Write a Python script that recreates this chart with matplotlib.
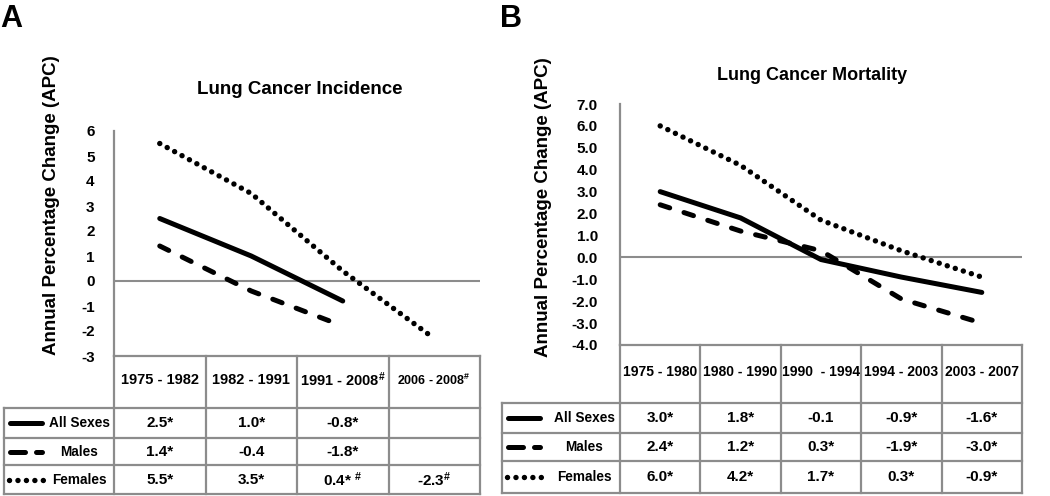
import matplotlib
matplotlib.use("Agg")
import matplotlib.pyplot as plt

plt.rcParams["font.family"] = ["Liberation Sans", "DejaVu Sans"]
plt.rcParams["font.weight"] = "bold"
plt.rcParams["axes.unicode_minus"] = False
plt.rcParams["mathtext.fontset"] = "custom"
plt.rcParams["mathtext.rm"] = "Liberation Sans:bold"
plt.rcParams["mathtext.it"] = "Liberation Sans:bold"
plt.rcParams["mathtext.bf"] = "Liberation Sans:bold"
plt.rcParams["mathtext.default"] = "rm"

# --- A: lung cancer incidence ---
inc_periods = ["1975 - 1982", "1982 - 1991", r"1991 - 2008$^{\#}$", r"2006 - 2008$^{\#}$"]
inc_all = [2.5, 1.0, -0.8]
inc_males = [1.4, -0.4, -1.8]
inc_females = [5.5, 3.5, 0.4, -2.3]
inc_all_txt = ["2.5*", "1.0*", "-0.8*", ""]
inc_males_txt = ["1.4*", "-0.4", "-1.8*", ""]
inc_females_txt = ["5.5*", "3.5*", r"0.4* $^{\#}$", r"-2.3$^{\#}$"]
inc_ticks = [-3, -2, -1, 0, 1, 2, 3, 4, 5, 6]

# --- B: lung cancer mortality ---
mort_periods = ["1975 - 1980", "1980 - 1990", "1990  - 1994", "1994 - 2003", "2003 - 2007"]
mort_all = [3.0, 1.8, -0.1, -0.9, -1.6]
mort_males = [2.4, 1.2, 0.3, -1.9, -3.0]
mort_females = [6.0, 4.2, 1.7, 0.3, -0.9]
mort_all_txt = ["3.0*", "1.8*", "-0.1", "-0.9*", "-1.6*"]
mort_males_txt = ["2.4*", "1.2*", "0.3*", "-1.9*", "-3.0*"]
mort_females_txt = ["6.0*", "4.2*", "1.7*", "0.3*", "-0.9*"]
mort_ticks = [-4.0, -3.0, -2.0, -1.0, 0.0, 1.0, 2.0, 3.0, 4.0, 5.0, 6.0, 7.0]

series_names = ["All Sexes", "Males", "Females"]

W, H = 1050, 496
GRAY = "#8c8c8c"
STYLES = [
    dict(color="black", lw=3.6, linestyle="-", solid_capstyle="round"),
    dict(color="black", lw=3.6, linestyle=(0, (2.0, 3.0)), dash_capstyle="round"),
    dict(color="black", lw=3.9, linestyle=(0, (0.01, 1.55)), dash_capstyle="round"),
]


def frac(l, t, r, b):
    return [l / W, 1 - b / H, (r - l) / W, (b - t) / H]


def draw_panel(fig, plot_px, tab_left, tab_bottom, rows_px, ticks, fmt, series,
               periods, cells, head_sizes, tick_pad, label_x):
    l, t, r, b = plot_px
    n = len(periods)
    ax = fig.add_axes(frac(l, t, r, b))
    for vals, st in zip(series, STYLES):
        ax.plot([i + 0.5 for i in range(len(vals))], vals, **st)
    ax.axhline(0, color=GRAY, lw=1.5, zorder=0)
    ax.set_xlim(0, n)
    ax.set_ylim(ticks[0], ticks[-1])
    ax.set_xticks([])
    ax.set_yticks(ticks)
    ax.set_yticklabels([fmt.format(v) for v in ticks], fontsize=11, fontweight="bold")
    ax.tick_params(axis="y", length=0, pad=tick_pad)
    for s in ["top", "right"]:
        ax.spines[s].set_visible(False)
    for s in ["left", "bottom"]:
        ax.spines[s].set_color(GRAY)
        ax.spines[s].set_linewidth(1.6)
    ax.patch.set_alpha(0)

    # table under the plot, in pixel units
    tx = fig.add_axes(frac(tab_left, b, r, tab_bottom))
    tx.set_xlim(tab_left, r)
    tx.set_ylim(tab_bottom, b)
    tx.axis("off")
    cw = (r - l) / n
    edges = [b] + rows_px + [tab_bottom]
    lk = dict(color=GRAY, lw=1.6, clip_on=False)
    for y in edges[1:]:
        tx.plot([tab_left, r], [y, y], **lk)
    tx.plot([tab_left, tab_left], [edges[1], tab_bottom], **lk)
    for i in range(n + 1):
        x = l + i * cw
        tx.plot([x, x], [b, tab_bottom], **lk)
    for i, p in enumerate(periods):
        tx.text(l + (i + 0.5) * cw, (edges[0] + edges[1]) / 2 - 2, p,
                ha="center", va="center", fontsize=head_sizes[i], fontweight="bold")
    for k, (name, texts) in enumerate(zip(series_names, cells)):
        yc = (edges[k + 1] + edges[k + 2]) / 2
        for i, s in enumerate(texts):
            tx.text(l + (i + 0.5) * cw, yc, s, ha="center", va="center",
                    fontsize=11, fontweight="bold")
        st = dict(STYLES[k])
        x0, x1 = tab_left + 6, tab_left + 38
        if k == 1:
            st["linestyle"] = (0, (3.0, 2.2))
        if k == 2:
            x0, x1 = tab_left + 5, tab_left + 40
        tx.plot([x0, x1], [yc, yc], clip_on=False, **st)
        tx.text(label_x, yc, name, ha="center", va="center", fontsize=9.8,
                fontweight="bold")
    return ax


fig = plt.figure(figsize=(W / 100, H / 100), dpi=100)

draw_panel(fig, (114, 131, 480, 356), 4, 494, [408, 438, 465], inc_ticks, "{:d}",
           [inc_all, inc_males, inc_females], inc_periods,
           [inc_all_txt, inc_males_txt, inc_females_txt],
           [10.5, 10.5, 10.5, 9], 14, 79)
draw_panel(fig, (620, 104, 1022, 345), 502, 493, [403, 433, 461], mort_ticks, "{:.1f}",
           [mort_all, mort_males, mort_females], mort_periods,
           [mort_all_txt, mort_males_txt, mort_females_txt],
           [10, 10, 10, 10, 10], 16, 584)

fig.text(300 / W, 1 - 90 / H, "Lung Cancer Incidence", ha="center", va="center",
         fontsize=13.5, fontweight="bold")
fig.text(812 / W, 1 - 75 / H, "Lung Cancer Mortality", ha="center", va="center",
         fontsize=13, fontweight="bold")
fig.text(52 / W, 1 - 205 / H, "Annual Percentage Change (APC)", rotation=90,
         ha="center", va="center", fontsize=13.5, fontweight="bold")
fig.text(543 / W, 1 - 207 / H, "Annual Percentage Change (APC)", rotation=90,
         ha="center", va="center", fontsize=13.5, fontweight="bold")
fig.text(0 / W, 1 - 27 / H, "A", ha="left", va="baseline", fontsize=22, fontweight="bold")
fig.text(500 / W, 1 - 27 / H, "B", ha="left", va="baseline", fontsize=22, fontweight="bold")

fig.savefig("out.png", dpi=100)
